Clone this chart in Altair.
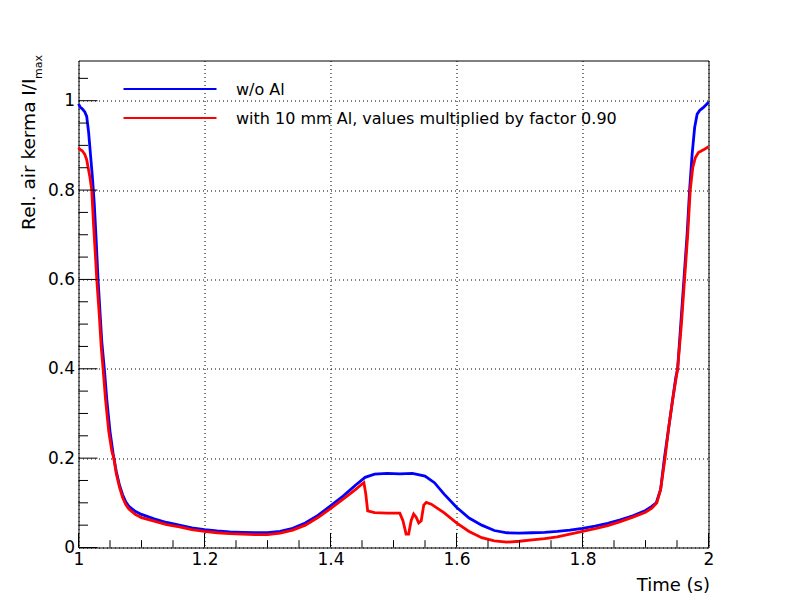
import altair as alt
import pandas as pd

# ---- data ----
blue_x = [1.000, 1.003, 1.006, 1.010, 1.013, 1.016, 1.019, 1.022, 1.025, 1.028,
          1.031, 1.034, 1.037, 1.041, 1.045, 1.050, 1.055, 1.060, 1.065, 1.070,
          1.075, 1.080, 1.090, 1.100, 1.120, 1.140, 1.160, 1.180, 1.200, 1.220,
          1.240, 1.260, 1.280, 1.300, 1.320, 1.340, 1.360, 1.380, 1.400, 1.420,
          1.440, 1.455, 1.470, 1.490, 1.510, 1.530, 1.550, 1.565, 1.580, 1.600,
          1.620, 1.640, 1.660, 1.680, 1.700, 1.720, 1.740, 1.760, 1.780, 1.800,
          1.820, 1.840, 1.860, 1.880, 1.900, 1.910, 1.917, 1.924, 1.930, 1.936,
          1.942, 1.948, 1.951, 1.956, 1.961, 1.966, 1.970, 1.974, 1.978, 1.982,
          1.986, 1.992, 1.997, 2.000]
blue_y = [0.993, 0.985, 0.982, 0.975, 0.965, 0.930, 0.880, 0.830, 0.770, 0.690,
          0.600, 0.530, 0.460, 0.400, 0.330, 0.260, 0.210, 0.170, 0.140, 0.118,
          0.102, 0.092, 0.081, 0.074, 0.064, 0.056, 0.050, 0.044, 0.040, 0.037,
          0.035, 0.034, 0.033, 0.033, 0.036, 0.043, 0.055, 0.072, 0.093, 0.115,
          0.140, 0.157, 0.164, 0.166, 0.165, 0.166, 0.160, 0.145, 0.120, 0.090,
          0.066, 0.050, 0.038, 0.033, 0.032, 0.033, 0.034, 0.036, 0.039, 0.043,
          0.048, 0.054, 0.062, 0.071, 0.083, 0.092, 0.100, 0.130, 0.200, 0.260,
          0.320, 0.380, 0.400, 0.500, 0.600, 0.700, 0.800, 0.880, 0.940, 0.970,
          0.978, 0.985, 0.992, 0.997]

red_x = [1.000, 1.003, 1.006, 1.010, 1.013, 1.016, 1.018, 1.021, 1.024, 1.027,
         1.029, 1.033, 1.036, 1.039, 1.043, 1.048, 1.053, 1.056, 1.060, 1.065,
         1.070, 1.075, 1.080, 1.090, 1.100, 1.120, 1.140, 1.160, 1.180, 1.200,
         1.220, 1.240, 1.260, 1.280, 1.300, 1.320, 1.340, 1.360, 1.380, 1.400,
         1.420, 1.440, 1.450, 1.453, 1.456, 1.459, 1.470, 1.490, 1.510, 1.515,
         1.520, 1.524, 1.528, 1.532, 1.536, 1.540, 1.544, 1.548, 1.552, 1.560,
         1.580, 1.600, 1.620, 1.640, 1.660, 1.680, 1.700, 1.720, 1.740, 1.760,
         1.780, 1.800, 1.820, 1.840, 1.860, 1.880, 1.900, 1.910, 1.918, 1.924,
         1.931, 1.937, 1.943, 1.951, 1.957, 1.962, 1.967, 1.971, 1.975, 1.979,
         1.984, 1.992, 2.000]
red_y = [0.895, 0.890, 0.888, 0.880, 0.868, 0.845, 0.830, 0.800, 0.720, 0.650,
         0.600, 0.520, 0.450, 0.400, 0.330, 0.260, 0.215, 0.200, 0.165, 0.135,
         0.112, 0.096, 0.086, 0.074, 0.067, 0.059, 0.051, 0.046, 0.040, 0.036,
         0.033, 0.031, 0.030, 0.029, 0.029, 0.032, 0.039, 0.050, 0.067, 0.087,
         0.108, 0.130, 0.142, 0.145, 0.120, 0.082, 0.078, 0.077, 0.077, 0.060,
         0.030, 0.030, 0.060, 0.075, 0.068, 0.055, 0.060, 0.095, 0.101, 0.097,
         0.078, 0.055, 0.036, 0.022, 0.015, 0.012, 0.014, 0.017, 0.020, 0.024,
         0.030, 0.036, 0.042, 0.049, 0.058, 0.068, 0.079, 0.088, 0.100, 0.130,
         0.200, 0.270, 0.330, 0.400, 0.500, 0.600, 0.700, 0.800, 0.850, 0.872,
         0.884, 0.890, 0.897]

x_major = [1.0, 1.2, 1.4, 1.6, 1.8, 2.0]
x_minor = [1.05, 1.1, 1.15, 1.25, 1.3, 1.35, 1.45, 1.5, 1.55, 1.65, 1.7, 1.75,
           1.85, 1.9, 1.95]
y_major = [0.0, 0.2, 0.4, 0.6, 0.8, 1.0]
y_minor = [0.05, 0.1, 0.15, 0.25, 0.3, 0.35, 0.45, 0.5, 0.55, 0.65, 0.7, 0.75,
           0.85, 0.9, 0.95, 1.05]

legend_labels = ["w/o Al", "with 10 mm Al, values multiplied by factor 0.90"]
series_colors = ["#0000ff", "#ff0000"]
x_title = "Time (s)"
y_title = "Rel. air kerma I/I"
y_title_sub = "max"

# ---- chart ----
FONT = "DejaVu Sans"
W, H = 630, 487
xscale = alt.Scale(domain=[1, 2], nice=False, zero=False)
yscale = alt.Scale(domain=[0, 1.09], nice=False, zero=False)

x_axis = alt.Axis(values=x_major, format="~g", labelFont=FONT, labelFontSize=17,
                  labelColor="black", ticks=False, tickSize=0, domain=False,
                  labelPadding=4, labelFlush=False, labelOverlap=False,
                  grid=True, gridDash=[1, 3], gridColor="black", gridOpacity=1,
                  title=x_title, titleFont=FONT, titleFontSize=18,
                  titleFontWeight="normal", titleColor="black",
                  titleAnchor="end", titleAlign="right", titleBaseline="alphabetic",
                  titleX=W + 1, titleY=43)
y_axis = alt.Axis(values=y_major, format="~g", labelFont=FONT, labelFontSize=17,
                  labelColor="black", ticks=False, tickSize=0, domain=False,
                  labelPadding=4, labelFlush=False, labelOverlap=False,
                  grid=True, gridDash=[1, 3], gridColor="black", gridOpacity=1,
                  title=None)

df_blue = pd.DataFrame({"x": blue_x, "y": blue_y})
df_red = pd.DataFrame({"x": red_x, "y": red_y})

blue = alt.Chart(df_blue).mark_line(color=series_colors[0], strokeWidth=2.8).encode(
    x=alt.X("x:Q", scale=xscale, axis=x_axis),
    y=alt.Y("y:Q", scale=yscale, axis=y_axis),
)
red = alt.Chart(df_red).mark_line(color=series_colors[1], strokeWidth=2.8).encode(
    x=alt.X("x:Q", scale=xscale, axis=x_axis),
    y=alt.Y("y:Q", scale=yscale, axis=y_axis),
)

def xticks(vals, length):
    return alt.Chart(pd.DataFrame({"x": vals})).mark_rule(color="black", strokeWidth=1).encode(
        x=alt.X("x:Q", scale=xscale, axis=x_axis),
        y=alt.value(H), y2=alt.value(H - length))

def yticks(vals, length):
    return alt.Chart(pd.DataFrame({"y": vals})).mark_rule(color="black", strokeWidth=1).encode(
        y=alt.Y("y:Q", scale=yscale, axis=y_axis),
        x=alt.value(0), x2=alt.value(length))

one = pd.DataFrame({"a": [0]})
legend_layers = []
for i, (lab, col) in enumerate(zip(legend_labels, series_colors)):
    ly = 28.5 + i * 29
    legend_layers.append(
        alt.Chart(one).mark_rule(color=col, strokeWidth=2).encode(
            x=alt.value(45), x2=alt.value(138), y=alt.value(ly)))
    legend_layers.append(
        alt.Chart(one).mark_text(text=lab, font=FONT, fontSize=16, color="black",
                                 align="left", baseline="middle").encode(
            x=alt.value(157.5), y=alt.value(ly + 0.5)))

ytitle_main = alt.Chart(one).mark_text(text=y_title, font=FONT, fontSize=18.5, color="black",
                                       angle=270, align="right", baseline="alphabetic").encode(
    x=alt.value(-43.5), y=alt.value(18))
ytitle_sub = alt.Chart(one).mark_text(text=y_title_sub, font=FONT, fontSize=11, color="black",
                                      angle=270, align="right", baseline="alphabetic").encode(
    x=alt.value(-37), y=alt.value(-5.5))

chart = alt.layer(
    blue, red,
    xticks(x_major, 14.6), xticks(x_minor, 7.3),
    yticks(y_major, 19), yticks(y_minor, 9.5),
    *legend_layers, ytitle_main, ytitle_sub,
).properties(
    width=W, height=H,
    padding={"left": 70.5, "top": 52.5, "right": 60, "bottom": 50},
    autosize="none",
).configure(background="white").configure_view(stroke="black", strokeWidth=1)

chart.save("out.html", embed_options={"renderer": "svg", "actions": False})
